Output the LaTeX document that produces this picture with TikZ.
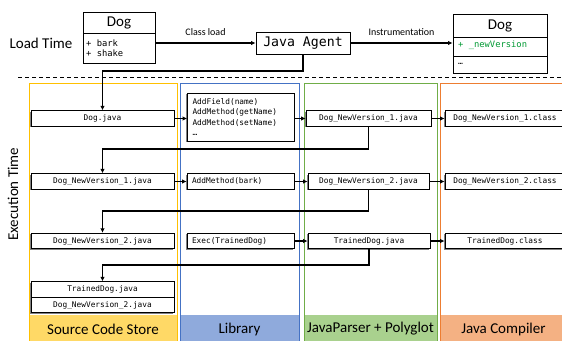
\documentclass[tikz,border=0pt]{standalone}
\usepackage{fontspec}
\setmainfont{Carlito}
\newfontfamily\monof{DejaVu Sans Mono}
\usetikzlibrary{arrows.meta,shadows}
\definecolor{ylB}{RGB}{255,192,0}
\definecolor{ylF}{RGB}{255,217,102}
\definecolor{blB}{RGB}{68,114,196}
\definecolor{blF}{RGB}{143,170,220}
\definecolor{grB}{RGB}{112,173,71}
\definecolor{grF}{RGB}{169,209,142}
\definecolor{orB}{RGB}{237,125,49}
\definecolor{orF}{RGB}{244,177,131}
\definecolor{fieldgreen}{RGB}{0,153,51}
\tikzset{
  fbox/.style={draw, line width=0.8pt, fill=white, inner sep=0pt,
    font=\monof\fontsize{7.8}{10.3}\selectfont,
    drop shadow={shadow xshift=-1.2pt, shadow yshift=-1pt, fill=black!50, opacity=1}},
  rowbox/.style={fbox, minimum height=15.5pt},
  libbox/.style={fbox, align=left, text width=97pt, minimum width=107pt},
  umlbox/.style={draw, line width=0.9pt, fill=white, inner sep=0pt},
  conn/.style={line width=1.5pt, -{Latex[length=4.5pt,width=4.5pt]}},
  harr/.style={line width=1.5pt, -{Latex[length=4.5pt,width=4.5pt]}},
  tarr/.style={line width=1.2pt, -{Latex[length=4.5pt,width=4.5pt]}},
  lane/.style={line width=1pt},
  lanelabel/.style={font=\fontsize{15}{15}\selectfont},
  biglabel/.style={font=\fontsize{15}{15}\selectfont},
  small/.style={font=\fontsize{10}{10}\selectfont}
}
\begin{document}
\begin{tikzpicture}[x=1pt,y=-1pt]
\useasboundingbox (0,0) rectangle (562,340);
\clip (0,0) rectangle (562,340);
% lanes
\fill[ylF] (29,315) rectangle (177,345);
\fill[blF] (180,315) rectangle (299,345);
\fill[grF] (304,315) rectangle (437,345);
\fill[orF] (440,315) rectangle (570,345);
\draw[lane, ylB] (29,345) -- (29,83) -- (177,83) -- (177,345);
\draw[lane, blB] (180,345) -- (180,83) -- (299,83) -- (299,345);
\draw[lane, grB] (304,345) -- (304,83) -- (437,83) -- (437,345);
\draw[lane, orB] (440,345) -- (440,83) -- (570,83);
\node[lanelabel] (l1) at (103,329) {Source Code Store};
\node[lanelabel] (l2) at (239.5,329) {Library};
\node[lanelabel] (l3) at (370.5,329) {JavaParser + Polyglot};
\node[lanelabel] (l4) at (503.5,329) {Java Compiler};
% dashed separator
\draw[line width=0.9pt, dash pattern=on 4pt off 3pt] (18,77) -- (562,77);
% side labels
\node[biglabel] (lt) at (41,43) {Load Time};
\node[biglabel, rotate=90] (et) at (13,194) {Execution Time};
% top UML boxes
\node[umlbox, minimum width=72pt, minimum height=21pt, font=\fontsize{15}{15}\selectfont] (dogh) at (119,22.5) {Dog};
\node[umlbox, minimum width=72pt, minimum height=30pt] (dogb) at (119,48) {};
\node[anchor=west, align=left, inner sep=0pt, font=\monof\fontsize{8.8}{10}\selectfont] (dogt) at (86,48) {+ bark\\+ shake};
\node[umlbox, minimum width=94pt, minimum height=22pt, font=\monof\fontsize{13.2}{14}\selectfont] (agent) at (303,43) {Java Agent};
\node[umlbox, minimum width=94pt, minimum height=23pt, font=\fontsize{15}{15}\selectfont] (rdogh) at (500,25.5) {Dog};
\node[umlbox, minimum width=94pt, minimum height=19pt] (rdogf) at (500,46.5) {};
\node[umlbox, minimum width=94pt, minimum height=17pt] (rdogd) at (500,64.5) {};
\node[anchor=west, inner sep=0pt, text=fieldgreen, font=\monof\fontsize{8.8}{10}\selectfont] (rdogft) at (458,45) {+ \_newVersion};
\node[anchor=west, inner sep=0pt, font=\monof\fontsize{8}{10}\selectfont] (rdogdt) at (458,64) {…};
\draw[tarr] (dogb.east |- agent.west) -- (agent.west) node[midway, above=3pt, small] (cl) {Class load};
\draw[tarr] (agent.east) -- (agent.east -| rdogf.west) node[midway, above=3pt, small] (ins) {Instrumentation};
% row 1
\node[rowbox, minimum width=143pt] (a1) at (102.5,118.5) {Dog.java};
\node[libbox, minimum height=48pt] (b1) at (241,117) {AddField(name)\\AddMethod(getName)\\AddMethod(setName)\\…};
\node[rowbox, minimum width=125pt] (c1) at (368.5,118.5) {Dog\_NewVersion\_1.java};
\node[rowbox, minimum width=120pt] (d1) at (505,118.5) {Dog\_NewVersion\_1.class};
% row 2
\node[rowbox, minimum width=143pt] (a2) at (102.5,181.5) {Dog\_NewVersion\_1.java};
\node[libbox, minimum height=15.5pt] (b2) at (240.5,181.5) {AddMethod(bark)};
\node[rowbox, minimum width=121pt] (c2) at (368.5,181.5) {Dog\_NewVersion\_2.java};
\node[rowbox, minimum width=120pt] (d2) at (505,181.5) {Dog\_NewVersion\_2.class};
% row 3
\node[rowbox, minimum width=143pt] (a3) at (102.5,241) {Dog\_NewVersion\_2.java};
\node[libbox, minimum height=15.5pt] (b3) at (240.5,241) {Exec(TrainedDog)};
\node[rowbox, minimum width=122pt] (c3) at (369,241) {TrainedDog.java};
\node[rowbox, minimum width=120pt] (d3) at (505,241) {TrainedDog.class};
% row 4
\node[rowbox, minimum width=143pt] (a4) at (102.5,289.5) {TrainedDog.java};
\node[rowbox, minimum width=143pt] (a5) at (102.5,305) {Dog\_NewVersion\_2.java};
% horizontal arrows
\draw[harr] (a1.east) -- (b1.west |- a1.east);
\draw[harr] (b1.east |- c1.west) -- (c1.west);
\draw[harr] (c1.east) -- (d1.west);
\draw[harr] (a2.east) -- (b2.west);
\draw[harr] (b2.east) -- (c2.west);
\draw[harr] (c2.east) -- (d2.west);
\draw[harr] (b3.east) -- (c3.west);
\draw[harr] (c3.east) -- (d3.west);
% elbow connectors
\coordinate (k0) at (303,71);
\coordinate (k1) at (368.5,149);
\coordinate (k2) at (368.5,211);
\coordinate (k3) at (369,265);
\draw[conn] (agent.south) -- (k0) -| (a1.north);
\draw[conn] (c1.south) -- (k1) -| (a2.north);
\draw[conn] (c2.south) -- (k2) -| (a3.north);
\draw[conn] (c3.south) -- (k3) -| (a4.north);
\end{tikzpicture}
\end{document}
